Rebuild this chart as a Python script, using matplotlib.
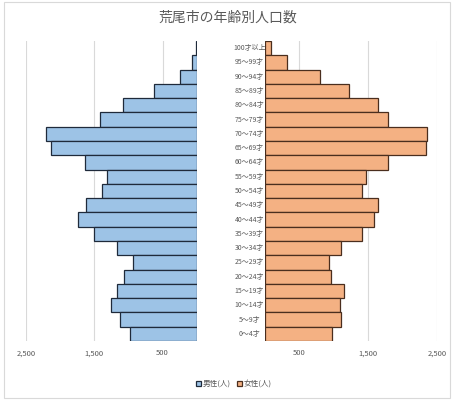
import numpy as np
import matplotlib.pyplot as plt
from matplotlib.patches import Rectangle

plt.rcParams['font.family'] = ['Noto Sans CJK JP', 'DejaVu Sans']

# ages from top (100+) to bottom (0-4)
ages = ["100才以上", "95～99才", "90～94才", "85～89才", "80～84才", "75～79才",
        "70～74才", "65～69才", "60～64才", "55～59才", "50～54才", "45～49才",
        "40～44才", "35～39才", "30～34才", "25～29才", "20～24才", "15～19才",
        "10～14才", "5～9才", "0～4才"]
male = [10, 65, 250, 630, 1080, 1410, 2210, 2130, 1640, 1320, 1380, 1620,
        1740, 1500, 1170, 930, 1060, 1165, 1250, 1120, 970]
female = [95, 325, 800, 1230, 1640, 1790, 2360, 2340, 1790, 1470, 1410, 1640,
          1590, 1410, 1110, 930, 970, 1150, 1090, 1110, 980]
ticks = [500, 1500, 2500]
tick_labels = ["500", "1,500", "2,500"]

grey = '#595959'
grid = '#d9d9d9'
y = np.arange(len(ages))[::-1]

fig = plt.figure(figsize=(4.54, 4.0), dpi=100)
fig.patches.append(Rectangle((4 / 454, 2 / 400), 446 / 454, 396 / 400,
                             transform=fig.transFigure, fill=False,
                             edgecolor='#d9d9d9', linewidth=0.8))

ax_m = fig.add_axes([26 / 454, 1 - 341 / 400, (196.7 - 26) / 454, 300 / 400])
ax_f = fig.add_axes([264.5 / 454, 1 - 341 / 400, (437 - 264.5) / 454, 300 / 400])

ax_m.barh(y, male, height=1.0, color='#9dc3e6', edgecolor='#1f2a3a', linewidth=0.9,
          label='男性(人)', zorder=3)
ax_f.barh(y, female, height=1.0, color='#f4b183', edgecolor='#4a2e1e', linewidth=0.9,
          label='女性(人)', zorder=3)

ax_m.set_xlim(2500, 0)
ax_f.set_xlim(0, 2500)

for ax in (ax_m, ax_f):
    ax.set_ylim(-0.5, len(ages) - 0.5)
    ax.set_yticks([])
    ax.set_xticks(ticks)
    ax.set_xticklabels(tick_labels)
    ax.tick_params(axis='x', length=0, labelsize=5.5, labelcolor=grey, pad=6)
    ax.grid(axis='x', color=grid, linewidth=0.8, zorder=0)
    for s in ax.spines.values():
        s.set_visible(False)

ax_m.axvline(0, color='#bfbfbf', linewidth=0.8, zorder=2)
ax_f.axvline(0, color='#bfbfbf', linewidth=0.8, zorder=2)

# age labels in the middle
for yy, lab in zip(y, ages):
    ax_m.annotate(lab, xy=(0, yy), xycoords='data', xytext=(38, 0),
                  textcoords='offset points', ha='center', va='center',
                  fontsize=5, color=grey, annotation_clip=False)

fig.text(228 / 454, 1 - 18 / 400, '荒尾市の年齢別人口数', ha='center', va='center',
         fontsize=10, color=grey)

handles = [ax_m.patches[0], ax_f.patches[0]]
fig.legend(handles, ['男性(人)', '女性(人)'], loc='center', bbox_to_anchor=(234 / 454, 1 - 384 / 400),
           ncol=2, frameon=False, fontsize=5.5, handlelength=0.6, handleheight=0.6,
           handletextpad=0.3, columnspacing=0.8, labelcolor=grey)

fig.savefig('out.png', dpi=100)
